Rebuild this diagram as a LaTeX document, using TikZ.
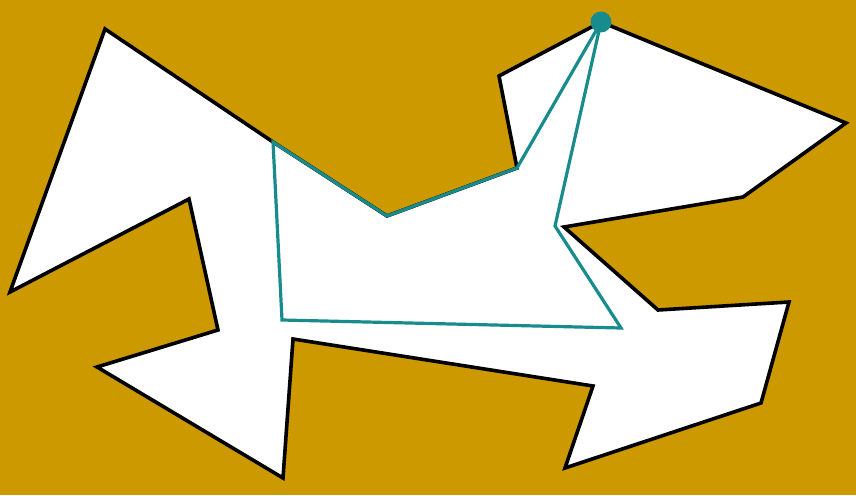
\documentclass[tikz,border=0pt]{standalone}
\definecolor{bgc}{RGB}{204,153,0}
\definecolor{tealc}{RGB}{24,140,140}
\begin{document}
\begin{tikzpicture}[x=1pt,y=-1pt,
  poly/.style={fill=white,draw=black,line width=3.6pt,line join=miter},
  vis/.style={draw=tealc,line width=3.2pt,line join=miter}]
\fill[bgc] (0,0) rectangle (856,495);
\useasboundingbox (0,0) rectangle (856,495);
\coordinate (p1) at (601,22);
\coordinate (p2) at (846,123);
\coordinate (p3) at (743,197);
\coordinate (p4) at (564,227);
\coordinate (p5) at (658,310);
\coordinate (p6) at (789,302);
\coordinate (p7) at (761,403);
\coordinate (p8) at (565,468);
\coordinate (p9) at (593,386);
\coordinate (p10) at (293,339);
\coordinate (p11) at (283,478);
\coordinate (p12) at (97,367);
\coordinate (p13) at (218,330);
\coordinate (p14) at (189,199);
\coordinate (p15) at (10,292);
\coordinate (p16) at (105,29);
\coordinate (p17) at (273,142);
\coordinate (p18) at (387,216);
\coordinate (p19) at (517,168);
\coordinate (p20) at (499,76);
\path[poly] (p1) -- (p2) -- (p3) -- (p4) -- (p5) -- (p6) -- (p7) -- (p8) -- (p9) -- (p10) -- (p11) -- (p12) -- (p13) -- (p14) -- (p15) -- (p16) -- (p17) -- (p18) -- (p19) -- (p20) -- cycle;
\coordinate (v1) at (282,320);
\coordinate (v2) at (621,328);
\coordinate (v3) at (555,226);
\path[vis] (p1) -- (p19) -- (p18) -- (p17) -- (v1) -- (v2) -- (v3) -- cycle;
\fill[tealc] (p1) circle (10.5);
\end{tikzpicture}
\end{document}
